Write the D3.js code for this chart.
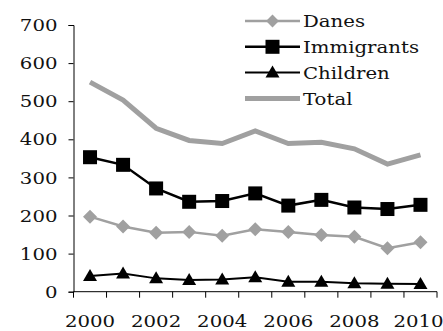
<!DOCTYPE html>
<html><head><meta charset="utf-8">
<script src="https://cdn.jsdelivr.net/npm/d3@7"></script>
<style>body{margin:0;background:#fff}svg{display:block}text{font-family:"DejaVu Serif",serif;fill:#111}</style>
</head><body><svg id="c" width="443" height="331"></svg>
<script>
const years = [2000,2001,2002,2003,2004,2005,2006,2007,2008,2009,2010];
const danes = [197,171,155,157,147,164,157,149,144,114,130];
const immigrants = [353,333,271,236,238,258,226,241,221,217,228];
const children = [41,48,35,31,32,38,26,26,22,21,20];
const total = [550,503,429,397,389,422,389,392,375,335,359];
const yTicks = [0,100,200,300,400,500,600,700];
const xLabels = [2000,2002,2004,2006,2008,2010];
const seriesNames = ["Danes","Immigrants","Children","Total"];

const svg = d3.select("#c");
const x = d3.scaleBand().domain(years).range([73.5,437]);
const y = d3.scaleLinear().domain([0,700]).range([291.7,25]);
const cx = d => x(d) + x.bandwidth()/2;
const gray = "#a0a0a0";
const SX = 1.16;
function wideText(g, tx, ty, anchor, size, str){
  return g.append("text").attr("transform",`translate(${tx},${ty}) scale(${SX},1)`)
    .attr("text-anchor",anchor).style("font-size",size+"px").text(str);
}

// y axis (line + ticks via d3 axis, labels drawn wide)
const ya = svg.append("g").attr("transform","translate(73.5,0)")
  .call(d3.axisLeft(y).tickValues(yTicks).tickSize(5).tickFormat(""));
yTicks.forEach(t=>wideText(svg,57.5,y(t),"end",17,t).attr("dy","0.36em"));
// x axis
const xa = svg.append("g").attr("transform","translate(0,291.7)");
xa.append("line").attr("x1",73.5).attr("x2",437).attr("stroke","#000");
const edges = years.map(d=>x(d)).concat([x(years[years.length-1])+x.bandwidth()]);
xa.selectAll("line.t").data(edges).join("line").attr("class","t")
  .attr("x1",d=>d).attr("x2",d=>d).attr("y1",0).attr("y2",6).attr("stroke","#000");
xLabels.forEach(t=>wideText(svg,Math.min(cx(t),418.5),326.5,"middle",17,t));
svg.selectAll(".domain,.tick line").attr("stroke","#000");

const line = d3.line().x((d,i)=>cx(years[i])).y(d=>y(d));
const diamond = d3.symbol(d3.symbolDiamond2 || d3.symbolDiamond,125)();
const tri = "M0,-7L7,5L-7,5Z";
// total
svg.append("path").datum(total).attr("d",line).attr("fill","none").attr("stroke",gray).attr("stroke-width",5);
// danes
svg.append("path").datum(danes).attr("d",line).attr("fill","none").attr("stroke",gray).attr("stroke-width",2.5);
svg.selectAll(".dm").data(danes).join("path").attr("class","dm")
  .attr("transform",(d,i)=>`translate(${cx(years[i])},${y(d)})`)
  .attr("d",diamond).attr("fill",gray);
// immigrants
svg.append("path").datum(immigrants).attr("d",line).attr("fill","none").attr("stroke","#000").attr("stroke-width",2.5);
svg.selectAll(".sq").data(immigrants).join("rect").attr("class","sq")
  .attr("x",(d,i)=>cx(years[i])-7).attr("y",d=>y(d)-7).attr("width",14).attr("height",14).attr("fill","#000");
// children
svg.append("path").datum(children).attr("d",line).attr("fill","none").attr("stroke","#000").attr("stroke-width",2);
svg.selectAll(".tr").data(children).join("path").attr("class","tr")
  .attr("transform",(d,i)=>`translate(${cx(years[i])},${y(d)})`)
  .attr("d",tri).attr("fill","#000");

// legend
const leg = [
  {color:gray,w:2.5,m:"diamond"},
  {color:"#000",w:2.5,m:"square"},
  {color:"#000",w:2,m:"triangle"},
  {color:gray,w:5,m:null}];
const lg = svg.append("g");
leg.forEach((s,i)=>{
  const yy = 21 + i*25.8;
  lg.append("line").attr("x1",245).attr("x2",300).attr("y1",yy).attr("y2",yy).attr("stroke",s.color).attr("stroke-width",s.w);
  if(s.m==="diamond") lg.append("path").attr("transform",`translate(272.5,${yy})`).attr("d",d3.symbol(d3.symbolDiamond2||d3.symbolDiamond,105)()).attr("fill",s.color);
  if(s.m==="square") lg.append("rect").attr("x",265.5).attr("y",yy-7).attr("width",14).attr("height",14).attr("fill",s.color);
  if(s.m==="triangle") lg.append("path").attr("transform",`translate(272.5,${yy})`).attr("d",tri).attr("fill",s.color);
  wideText(lg,303,yy,"start",17,seriesNames[i]).attr("dy","0.36em");
});
</script></body></html>
